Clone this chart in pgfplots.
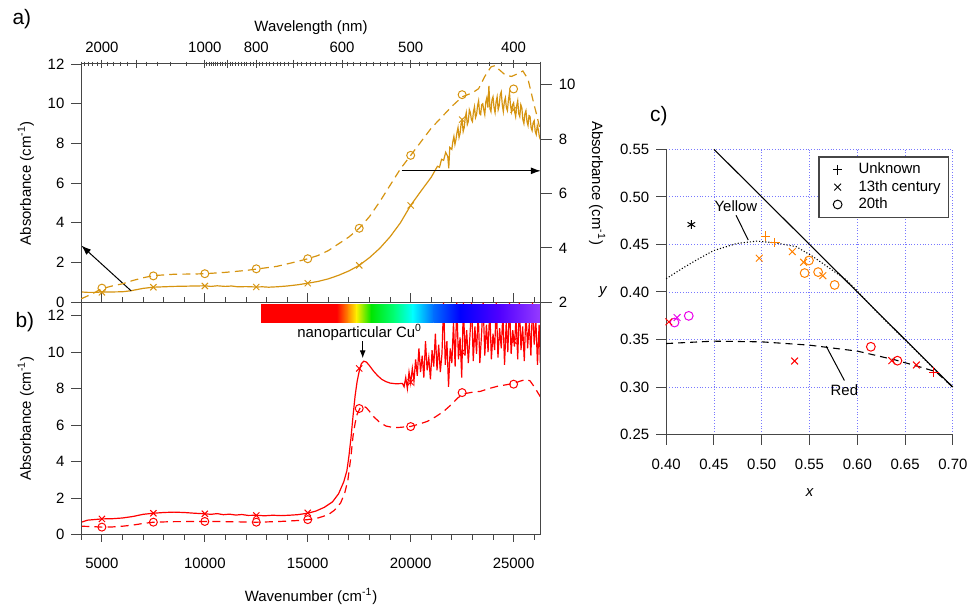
\documentclass[border=0pt]{standalone}
\usepackage{fontspec}
\setmainfont{Liberation Sans}
\usepackage{pgfplots}
\pgfplotsset{compat=1.18}
\usetikzlibrary{arrows.meta}

\definecolor{gold}{RGB}{214,148,16}
\definecolor{cor}{RGB}{255,128,0}
\definecolor{cmag}{RGB}{235,0,235}
\definecolor{gridblue}{RGB}{120,120,255}
\definecolor{axgray}{RGB}{70,70,70}
\definecolor{sp1}{RGB}{255,0,0}
\definecolor{sp2}{RGB}{255,140,0}
\definecolor{sp3}{RGB}{255,240,0}
\definecolor{sp4}{RGB}{0,230,0}
\definecolor{sp5}{RGB}{0,255,120}
\definecolor{sp6}{RGB}{0,255,255}
\definecolor{sp7}{RGB}{0,110,255}
\definecolor{sp8}{RGB}{0,0,255}
\definecolor{sp9}{RGB}{80,0,255}
\definecolor{sp10}{RGB}{150,60,255}

\newcommand{\fs}{\fontsize{7.5}{9}\selectfont}

\pgfplotsset{
  base/.style={
    scale only axis, anchor=south west,
    /pgf/number format/assume math mode=true,
    /pgf/number format/1000 sep={},
    scaled ticks=false,
    tick label style={font=\fs},
    label style={font=\fs},
    axis line style={axgray, line width=0.5pt},
    every tick/.style={axgray, line width=0.5pt},
    clip=false,
  },
  panel/.style={base, width=230.8pt, xmin=4000, xmax=26320},
  pa/.style={panel, at={(40.85pt,148.15pt)}, height=119.7pt},
  pb/.style={panel, at={(40.85pt,31.35pt)}, height=116.8pt},
}

\begin{document}
\begin{tikzpicture}
\path (0,0) rectangle (487pt,300pt);

% ---------- panel a: bottom ticks + 13th century (left scale)
\begin{axis}[pa, ymin=0, ymax=12, hide y axis, axis x line*=bottom,
  tick align=inside, xtick={5000,10000,15000,20000,25000}, xticklabels={,,,,,},
  minor xtick={4000,6000,7000,8000,9000,11000,12000,13000,14000,16000,17000,18000,19000,21000,22000,23000,24000,26000},
  major tick length=4.5pt, minor tick length=2.8pt]
\addplot[gold, line width=0.6pt] coordinates {
(4000,0.52) (4300,0.50) (4700,0.50) (5000,0.52) (5500,0.52) (6000,0.53) (6400,0.58)
(7000,0.70) (7500,0.76) (8500,0.80) (9500,0.82) (10000,0.83) (10300,0.80) (10600,0.83)
(11000,0.80) (11300,0.82) (11600,0.78) (12000,0.79) (12500,0.77) (12800,0.78) (13100,0.76)
(13500,0.78) (14000,0.82) (14500,0.88) (15000,0.96) (15500,1.05) (16000,1.18) (16500,1.36)
(17000,1.58) (17500,1.86) (18000,2.25) (18500,2.72) (19000,3.3) (19500,4.0) (20000,4.88)
(20500,5.6) (21000,6.3) (21300,6.85) (21400,6.8) (21500,7.2) (21600,7.15) (21700,7.55)
(21800,7.35) (21850,6.75) (21900,7.8) (22000,7.7) (22050,8.1) (22100,8.35) (22150,7.95) (22200,8.2)
(22250,8.55) (22300,8.8) (22350,8.3) (22400,8.5) (22450,9.0) (22500,9.15) (22550,8.6) (22600,8.8)
(22650,9.3) (22700,9.55) (22750,8.95) (22800,9.1) (22850,9.7) (22900,9.55) (22950,9.2) (23000,9.1)
(23050,9.6) (23100,9.85) (23150,9.3) (23200,9.45) (23250,9.9) (23300,10.15) (23350,9.5) (23400,9.45)
(23450,9.95) (23500,10.0) (23550,9.7) (23600,9.45) (23650,10.1) (23700,10.3) (23750,9.8)
(23800,10.9) (23850,9.75) (23900,9.6) (23950,10.2) (24000,10.35) (24050,9.8) (24100,9.55) (24150,10.1)
(24200,10.35) (24250,9.7) (24300,9.9) (24350,10.45) (24400,10.6) (24450,9.95) (24500,9.6)
(24550,10.1) (24600,10.3) (24650,9.8) (24700,9.65) (24750,10.2) (24800,10.55) (24850,9.9)
(24900,9.6) (24950,9.95) (25000,10.05) (25050,9.6) (25100,9.35) (25150,9.9) (25200,10.15)
(25250,9.5) (25300,9.35) (25350,9.95) (25400,9.8) (25450,9.2) (25500,9.0) (25550,9.5)
(25600,9.65) (25650,9.1) (25700,8.9) (25750,9.4) (25800,9.35) (25850,8.8) (25900,8.65)
(25950,9.05) (26000,9.15) (26050,8.6) (26100,8.45) (26150,8.9) (26200,8.7) (26250,8.35) (26300,8.2)};
\addplot[gold, only marks, mark=x, mark size=2.2pt, mark options={line width=0.5pt}] coordinates {
(5000,0.5) (7500,0.76) (10000,0.82) (12500,0.77) (15000,0.96) (17500,1.86) (20000,4.88) (22500,9.2) (25000,9.7)};
\draw[-{Latex[length=5pt,width=3.5pt]}, line width=0.5pt] (axis cs:6426,0.57) -- (axis cs:4000,2.86);
\draw[-{Latex[length=5pt,width=3.5pt]}, line width=0.5pt] (axis cs:19560,6.62) -- (axis cs:26320,6.62);
\end{axis}

% ---------- panel a: left axis
\begin{axis}[pa, ymin=0, ymax=12, hide x axis, axis y line*=left,
  tick align=outside, ytick={0,2,4,6,8,10,12}, major tick length=5pt,
  ylabel={Absorbance (cm\textsuperscript{-1})}]
\end{axis}

% ---------- panel a: right axis + 20th (dashed)
\begin{axis}[pa, ymin=2, ymax=10.757, hide x axis, axis y line*=right,
  tick align=outside, ytick={2,4,6,8,10}, major tick length=5.5pt,
  ylabel={Absorbance (cm\textsuperscript{-1})}, ylabel style={rotate=180}]
\addplot[gold, line width=0.6pt, dash pattern=on 4pt off 2.6pt] coordinates {
(4000,2.13) (4500,2.3) (5000,2.5) (5500,2.6) (6000,2.68) (6500,2.8) (7000,2.9) (7500,2.98)
(8500,3.03) (9500,3.04) (10000,3.05) (11000,3.1) (12000,3.17) (12500,3.22) (13500,3.32)
(14500,3.5) (15000,3.6) (15500,3.72) (16000,3.9) (16500,4.15) (17000,4.4) (17500,4.72)
(18000,5.15) (18500,5.7) (19000,6.3) (19500,6.9) (20000,7.4) (20500,7.9) (21000,8.4)
(21500,8.8) (22000,9.2) (22500,9.55) (23000,9.7) (23300,9.85) (23600,10.3) (23900,10.65)
(24100,10.7) (24300,10.55) (24600,10.35) (24900,10.3) (25200,10.4) (25450,10.5) (25700,10.2)
(25950,9.4) (26150,8.8) (26300,8.3)};
\addplot[gold, only marks, mark=o, mark size=2pt, mark options={line width=0.5pt}] coordinates {
(5000,2.52) (7500,2.97) (10000,3.05) (12500,3.23) (15000,3.6) (17500,4.72) (20000,7.4) (22500,9.63) (25000,9.84)};
\end{axis}

% ---------- panel a: top wavelength axis
\begin{axis}[pa, ymin=0, ymax=1, hide y axis, axis x line*=top, tick align=center,
  xtick={5000,10000,12500,16666.67,20000,25000},
  xticklabels={2000,1000,800,600,500,400},
  extra x ticks={6666.67,11111.11,14285.71}, extra x tick labels={,,},
  minor xtick={4000,4166.67,4347.83,4545.45,4761.90,5263.16,5555.56,5882.35,6250,7142.86,7692.31,8333.33,9090.91,10101.01,10204.08,10309.28,10416.67,10526.32,10638.30,10752.69,10869.57,10989.01,11235.96,11363.64,11494.25,11627.91,11764.71,11904.76,12048.19,12195.12,12345.68,12658.23,12820.51,12987.01,13157.89,13333.33,13513.51,13698.63,13888.89,14084.51,14492.75,14705.88,14925.37,15151.52,15384.62,15625,15873.02,16129.03,16393.44,16949.15,17241.38,17543.86,17857.14,18181.82,18518.52,18867.92,19230.77,19607.84,20408.16,20833.33,21276.60,21739.13,22222.22,22727.27,23255.81,23809.52,24390.24,25641.03,26315.79},
  major tick length=4.5pt, minor tick length=2.5pt,
  xlabel={Wavelength (nm)}, xlabel style={yshift=-7.5pt}]
\end{axis}

% ---------- panel b: data + bottom axis
\begin{axis}[pb, ymin=0, ymax=12.72, hide y axis, axis x line*=bottom,
  tick align=outside, xtick={5000,10000,15000,20000,25000},
  minor xtick={4000,6000,7000,8000,9000,11000,12000,13000,14000,16000,17000,18000,19000,21000,22000,23000,24000,26000},
  major tick length=3.5pt, minor tick length=2.5pt,
  xticklabel style={yshift=-4.5pt},
  xlabel={Wavenumber (cm\textsuperscript{-1})}, xlabel style={yshift=-3pt}]
\addplot[red, line width=0.6pt] coordinates {
(4000,0.69) (4300,0.8) (5000,0.87) (5500,0.88) (6000,0.92) (6500,1.0) (7000,1.12) (7500,1.18)
(8000,1.22) (8500,1.24) (9000,1.22) (9500,1.18) (10000,1.15) (10300,1.12) (10600,1.16)
(10900,1.1) (11200,1.13) (11500,1.08) (11800,1.11) (12100,1.06) (12500,1.07) (12900,1.04)
(13300,1.07) (13700,1.05) (14100,1.07) (14500,1.1) (15000,1.18) (15400,1.3) (15800,1.5)
(16200,1.8) (16500,2.25) (16750,2.9) (16900,3.5) (17000,4.3) (17100,5.3) (17200,6.5)
(17300,7.6) (17400,8.4) (17500,8.95) (17600,9.35) (17720,9.5) (17850,9.45) (18000,9.25)
(18200,8.95) (18400,8.7) (18600,8.5) (18800,8.38) (19000,8.3) (19300,8.26) (19600,8.28)
(19680,8.1) (19760,8.6) (19840,8.0) (19920,8.9) (20000,8.3) (20080,9.1) (20160,8.4)
(20240,9.6) (20320,8.7) (20400,10.2) (20480,8.9) (20560,9.8) (20640,8.6) (20720,10.6)
(20800,9.0) (20880,9.7) (20960,8.5) (21040,10.1) (21120,9.2) (21200,11.0) (21280,9.0)
(21360,10.4) (21440,8.9) (21520,9.9) (21600,12.7) (21680,9.3) (21760,10.6) (21840,8.1)
(21920,10.2) (22000,9.4) (22080,11.6) (22160,9.2) (22240,12.7) (22320,9.6) (22400,10.8)
(22480,8.6) (22560,12.7) (22640,9.8) (22720,11.2) (22800,9.4) (22880,10.9) (22960,12.7)
(23040,9.5) (23120,11.4) (23200,9.9) (23280,12.2) (23360,9.4) (23440,10.9) (23520,12.7)
(23600,9.8) (23680,11.5) (23760,10.0) (23840,12.4) (23920,9.6) (24000,11.0) (24080,10.1)
(24160,12.7) (24240,9.7) (24320,11.3) (24400,10.2) (24480,12.1) (24560,9.3) (24640,11.6)
(24720,10.0) (24800,12.7) (24880,9.9) (24960,11.2) (25040,10.3) (25120,11.9) (25200,9.6)
(25280,12.7) (25360,10.1) (25440,11.4) (25520,9.5) (25600,12.3) (25680,10.2) (25760,11.6)
(25840,9.8) (25920,12.7) (26000,10.4) (26080,11.8) (26160,9.3) (26240,11.5) (26300,9.4)};
\addplot[red, only marks, mark=x, mark size=2.2pt, mark options={line width=0.5pt}] coordinates {
(5000,0.87) (7500,1.18) (10000,1.15) (12500,1.06) (15000,1.2) (17500,9.1) (20000,8.35) (22500,10.0) (25000,10.6)};
\addplot[red, line width=0.6pt, dash pattern=on 4pt off 2.6pt] coordinates {
(4000,0.47) (4500,0.45) (5000,0.42) (5500,0.43) (6000,0.47) (6500,0.53) (7000,0.62) (7500,0.69)
(8500,0.72) (10000,0.73) (11000,0.72) (12000,0.7) (12500,0.69) (13500,0.72) (14500,0.78)
(15000,0.83) (15500,0.92) (16000,1.1) (16300,1.35) (16600,1.75) (16800,2.3) (16950,3.0)
(17100,4.3) (17200,5.4) (17300,6.1) (17400,6.6) (17550,6.95) (17700,7.04) (17850,6.95)
(18000,6.75) (18200,6.46) (18500,6.15) (18800,5.95) (19100,5.88) (19400,5.87) (19700,5.9)
(20000,5.93) (20400,6.05) (20800,6.2) (21200,6.45) (21600,6.75) (22000,7.15) (22300,7.5)
(22600,7.72) (23000,7.8) (23400,7.85) (23800,8.0) (24200,8.12) (24600,8.2) (25000,8.28)
(25300,8.4) (25600,8.5) (25800,8.42) (26000,8.1) (26300,7.55)};
\addplot[red, only marks, mark=o, mark size=2pt, mark options={line width=0.5pt}] coordinates {
(5000,0.42) (7500,0.69) (10000,0.73) (12500,0.69) (15000,0.83) (17500,6.91) (20000,5.92) (22500,7.78) (25000,8.24)};
% spectrum bar
\shade[left color=sp1, right color=sp1] (axis cs:12730,11.63) rectangle (axis cs:16420,12.6);
\shade[left color=sp1, right color=sp2] (axis cs:16400,11.63) rectangle (axis cs:16970,12.6);
\shade[left color=sp2, right color=sp3] (axis cs:16950,11.63) rectangle (axis cs:17370,12.6);
\shade[left color=sp3, right color=sp4] (axis cs:17350,11.63) rectangle (axis cs:18090,12.6);
\shade[left color=sp4, right color=sp5] (axis cs:18070,11.63) rectangle (axis cs:19220,12.6);
\shade[left color=sp5, right color=sp6] (axis cs:19200,11.63) rectangle (axis cs:20110,12.6);
\shade[left color=sp6, right color=sp7] (axis cs:20090,11.63) rectangle (axis cs:21120,12.6);
\shade[left color=sp7, right color=sp8] (axis cs:21100,11.63) rectangle (axis cs:22420,12.6);
\shade[left color=sp8, right color=sp9] (axis cs:22400,11.63) rectangle (axis cs:24320,12.6);
\shade[left color=sp9, right color=sp10] (axis cs:24300,11.63) rectangle (axis cs:26320,12.6);
\node[font=\fs, inner sep=0pt] at (axis cs:17523,11.07) {nanoparticular Cu\textsuperscript{0}};
\draw[-{Latex[length=4pt,width=3pt]}, line width=0.5pt] (axis cs:17669,10.6) -- (axis cs:17669,9.66);
\draw[axgray, line width=0.5pt] (rel axis cs:1,0) -- (rel axis cs:1,1);
\end{axis}

% ---------- panel b: left axis
\begin{axis}[pb, ymin=0, ymax=12.72, hide x axis, axis y line*=left,
  tick align=outside, ytick={0,2,4,6,8,10,12}, major tick length=5pt,
  ylabel={Absorbance (cm\textsuperscript{-1})}]
\end{axis}

% ---------- panel c: chromaticity
\begin{axis}[base, width=144pt, height=143.35pt, at={(334.65pt,81.65pt)},
  xmin=0.40, xmax=0.70, ymin=0.25, ymax=0.55,
  axis x line*=bottom, axis y line*=left, tick align=outside,
  major tick length=5pt,
  xtick={0.40,0.45,0.50,0.55,0.60,0.65,0.70},
  ytick={0.25,0.30,0.35,0.40,0.45,0.50,0.55},
  xticklabel style={yshift=-3.5pt, /pgf/number format/.cd, fixed, fixed zerofill, precision=2},
  yticklabel style={/pgf/number format/.cd, fixed, fixed zerofill, precision=2},
  grid=major, grid style={gridblue, densely dotted, line width=0.45pt},
  xlabel={\itshape x}, xlabel style={yshift=-3pt},
  ylabel={\itshape y}, ylabel style={rotate=-90},
  legend cell align=left,
  legend image code/.code={\path[draw=none] (0pt,0pt) -- (16pt,0pt); \draw[#1] plot coordinates {(7.5pt,0pt)};},
  legend style={at={(axis cs:0.5588,0.5429)}, anchor=north west, draw=axgray,
    line width=0.8pt, fill=white, font=\fs,
    inner xsep=2pt, inner ysep=1pt, row sep=-2.2pt}]
\addlegendimage{only marks, mark=+, mark size=2.4pt, black, line width=0.5pt}
\addlegendentry{Unknown}
\addlegendimage{only marks, mark=x, mark size=2.4pt, black, line width=0.5pt}
\addlegendentry{13th century}
\addlegendimage{only marks, mark=o, mark size=2.2pt, black, line width=0.5pt}
\addlegendentry{20th}
\addplot[black, line width=0.55pt, forget plot] coordinates {(0.45,0.55) (0.70,0.30)};
\addplot[black, densely dotted, line width=0.55pt, forget plot] coordinates {
(0.40,0.414) (0.4164,0.4245) (0.4323,0.434) (0.4496,0.4435) (0.4738,0.451) (0.495,0.4535)
(0.5154,0.4515) (0.5362,0.4476) (0.5535,0.4373) (0.5708,0.4251) (0.5881,0.413) (0.6002,0.4008)
(0.62,0.3795) (0.64,0.3595) (0.66,0.3395) (0.68,0.3195) (0.70,0.2995)};
\addplot[black, dash pattern=on 3.5pt off 2.5pt, line width=0.55pt, forget plot] coordinates {
(0.40,0.3458) (0.4493,0.3483) (0.4997,0.3476) (0.55,0.3441) (0.6003,0.3378) (0.64,0.3285)
(0.6646,0.3215) (0.682,0.3163) (0.70,0.30)};
% orange (yellow glass)
\addplot[cor, only marks, mark=+, mark size=2.4pt, line width=0.5pt, forget plot] coordinates {(0.5039,0.4587) (0.5136,0.4518)};
\addplot[cor, only marks, mark=x, mark size=2.4pt, line width=0.5pt, forget plot] coordinates {(0.4974,0.4355) (0.532,0.4424) (0.5438,0.4313) (0.5639,0.4171)};
\addplot[cor, only marks, mark=o, mark size=2.2pt, line width=0.5pt, forget plot] coordinates {(0.5494,0.4331) (0.5449,0.4199) (0.559,0.4209) (0.5763,0.4074)};
% magenta
\addplot[cmag, only marks, mark=x, mark size=2.4pt, line width=0.5pt, forget plot] coordinates {(0.4114,0.3731)};
\addplot[cmag, only marks, mark=o, mark size=2.2pt, line width=0.5pt, forget plot] coordinates {(0.4087,0.3679) (0.4236,0.3749)};
% red
\addplot[red, only marks, mark=x, mark size=2.4pt, line width=0.5pt, forget plot] coordinates {(0.4028,0.3686) (0.5344,0.3274) (0.6361,0.3278) (0.6618,0.3233)};
\addplot[red, only marks, mark=+, mark size=2.4pt, line width=0.5pt, forget plot] coordinates {(0.6802,0.3156)};
\addplot[red, only marks, mark=o, mark size=2.2pt, line width=0.5pt, forget plot] coordinates {(0.6142,0.3424) (0.642,0.3278)};
% black asterisk
\addplot[black, only marks, mark=asterisk, mark size=2.2pt, line width=0.5pt, forget plot] coordinates {(0.4263,0.4709)};
\draw[black, line width=0.5pt] (axis cs:0.4731,0.4806) -- (axis cs:0.4859,0.4546);
\node[font=\fs, inner sep=0pt] at (axis cs:0.473,0.490) {Yellow};
\draw[black, line width=0.5pt] (axis cs:0.5674,0.3431) -- (axis cs:0.5865,0.307);
\node[font=\fs, inner sep=0pt] at (axis cs:0.5865,0.2965) {Red};
\end{axis}

% panel letters
\node[font=\fontsize{10.5}{12}\selectfont, inner sep=0pt] at (11pt,290.5pt) {a)};
\node[font=\fontsize{10.5}{12}\selectfont, inner sep=0pt] at (12.5pt,138pt) {b)};
\node[font=\fontsize{10.5}{12}\selectfont, inner sep=0pt] at (331pt,241.5pt) {c)};
\end{tikzpicture}
\end{document}
